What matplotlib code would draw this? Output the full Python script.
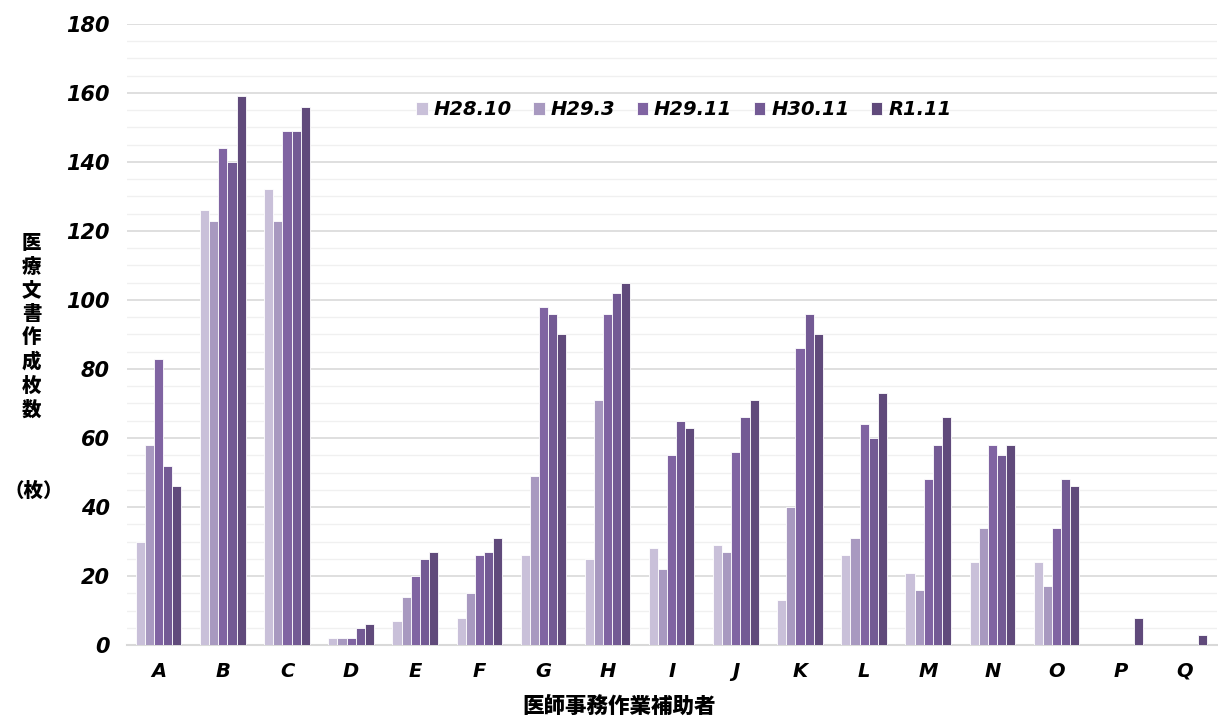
import numpy as np
import matplotlib
matplotlib.use("Agg")
import matplotlib.pyplot as plt
from matplotlib.ticker import MultipleLocator

plt.rcParams['font.family'] = ['DejaVu Sans', 'Noto Sans CJK JP']

categories = ["A", "B", "C", "D", "E", "F", "G", "H", "I",
              "J", "K", "L", "M", "N", "O", "P", "Q"]
series_names = ["H28.10", "H29.3", "H29.11", "H30.11", "R1.11"]

h28_10 = [30, 126, 132, 2, 7, 8, 26, 25, 28, 29, 13, 26, 21, 24, 24, 0, 0]
h29_3 = [58, 123, 123, 2, 14, 15, 49, 71, 22, 27, 40, 31, 16, 34, 17, 0, 0]
h29_11 = [83, 144, 149, 2, 20, 26, 98, 96, 55, 56, 86, 64, 48, 58, 34, 0, 0]
h30_11 = [52, 140, 149, 5, 25, 27, 96, 102, 65, 66, 96, 60, 58, 55, 48, 0, 0]
r1_11 = [46, 159, 156, 6, 27, 31, 90, 105, 63, 71, 90, 73, 66, 58, 46, 8, 3]

colors = ["#c9c0d9", "#a899c0", "#8064a2", "#735a94", "#604a7b"]

fig = plt.figure(figsize=(12.18, 7.2), dpi=100)
ax = fig.add_axes([0.104, 0.104, 0.895, 0.863])

x = np.arange(len(categories))
width = 0.142
all_series = [h28_10, h29_3, h29_11, h30_11, r1_11]
for i, (vals, name) in enumerate(zip(all_series, series_names)):
    ax.bar(x + (i - 2) * width, vals, width, color=colors[i], label=name,
           edgecolor="white", linewidth=0.6, zorder=3)

ax.set_xlim(-0.5, len(categories) - 0.5)
ax.set_ylim(0, 180)
ax.yaxis.set_major_locator(MultipleLocator(20))
ax.yaxis.set_minor_locator(MultipleLocator(5))
ax.grid(axis="y", which="major", color="#d9d9d9", linewidth=1.2, zorder=0)
ax.grid(axis="y", which="minor", color="#f0f0f0", linewidth=1.0, zorder=0)
ax.set_axisbelow(True)

for side in ["top", "right", "left"]:
    ax.spines[side].set_visible(False)
ax.spines["bottom"].set_color("#d9d9d9")
ax.spines["bottom"].set_linewidth(1.5)
ax.tick_params(axis="both", which="both", length=0)
ax.tick_params(axis="y", pad=12)
ax.tick_params(axis="x", pad=12)

ax.set_xticks(x)
ax.set_xticklabels(categories, fontsize=14, fontweight="bold", style="italic")
ax.set_yticks(np.arange(0, 181, 20))
ax.set_yticklabels([str(v) for v in range(0, 181, 20)], fontsize=15,
                   fontweight="bold", style="italic")

cjk = ['Noto Sans CJK JP', 'DejaVu Sans']
fig.text(0.508, 0.017, "医師事務作業補助者", ha="center", va="center",
         fontsize=15.5, fontweight="black", family=cjk)
fig.text(0.026, 0.546, "\n".join("医療文書作成枚数"), ha="center", va="center",
         fontsize=14, fontweight="black", family=cjk, linespacing=1.3)
fig.text(0.028, 0.318, "（枚）", ha="center", va="center",
         fontsize=14, fontweight="black", family=cjk)

ax.legend(loc="upper center", bbox_to_anchor=(0.511, 0.905), ncol=5, frameon=False,
          prop={"size": 14, "weight": "bold", "style": "italic"},
          handlelength=0.6, handleheight=0.6, handletextpad=0.3, columnspacing=1.1)

fig.savefig("out.png", dpi=100)
